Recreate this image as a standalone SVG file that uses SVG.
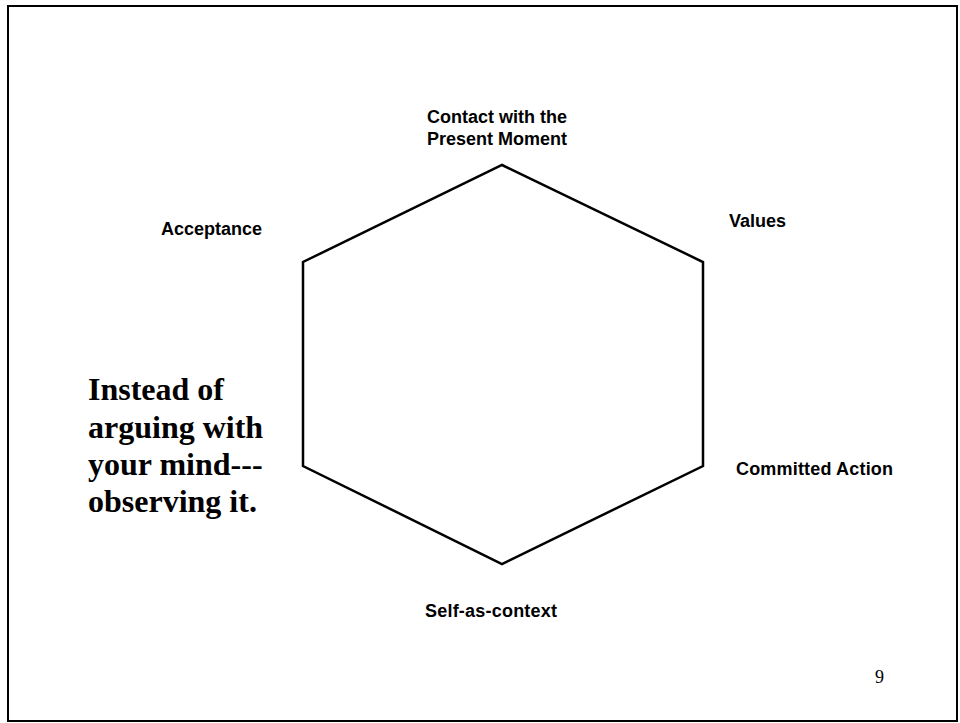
<svg xmlns="http://www.w3.org/2000/svg" width="960" height="723" viewBox="0 0 960 723">
<style>
.lbl{font-family:"Liberation Sans",Arial,sans-serif;font-weight:bold;font-size:18px;fill:#000}
.big{font-family:"Liberation Serif","Times New Roman",serif;font-weight:bold;font-size:32px;fill:#000}
.num{font-family:"Liberation Serif","Times New Roman",serif;font-size:18px;fill:#000}
</style>
<rect x="8" y="6" width="949" height="715" fill="#fff" stroke="#000" stroke-width="2"/>
<g id="connectors">
<polygon id="hexagon" points="502,165 703,262 703,466 502,564 303,466 303,262" fill="none" stroke="#000" stroke-width="2.5"/>
</g>
<g id="contact"><text class="lbl" x="497" y="123" text-anchor="middle">Contact with the</text><text class="lbl" x="497" y="145" text-anchor="middle">Present Moment</text></g>
<g id="values"><text class="lbl" x="729" y="227">Values</text></g>
<g id="acceptance"><text class="lbl" x="161" y="235">Acceptance</text></g>
<g id="committed"><text class="lbl" x="736" y="475" textLength="157">Committed Action</text></g>
<g id="self"><text class="lbl" x="425" y="617" textLength="132">Self-as-context</text></g>
<g id="note"><text class="big" x="88" y="400">Instead of</text><text class="big" x="88" y="438">arguing with</text><text class="big" x="88" y="475">your mind---</text><text class="big" x="88" y="512">observing it.</text></g>
<g id="page"><text class="num" x="875" y="683">9</text></g>
</svg>
